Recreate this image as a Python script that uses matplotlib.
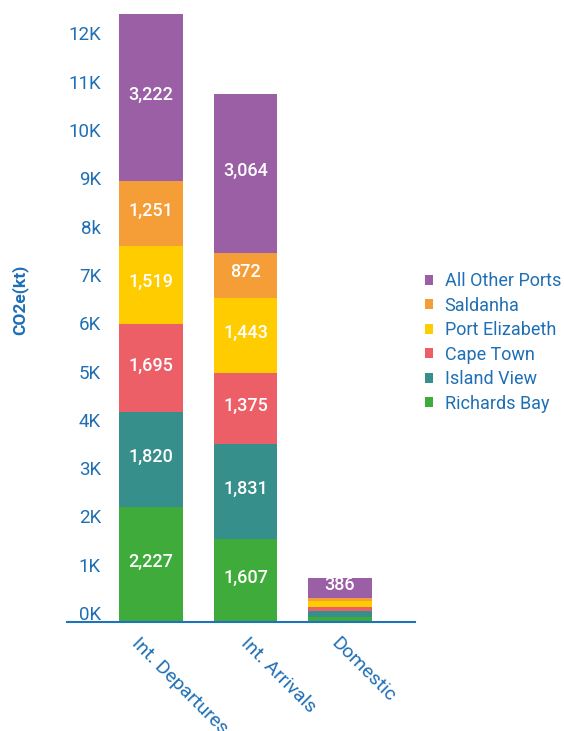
#!/usr/bin/env python3
import matplotlib
matplotlib.use('Agg')
import matplotlib.pyplot as plt
import matplotlib.transforms as mtrans

# emissions per port, in kt CO2e
categories = ['Int. Departures', 'Int. Arrivals', 'Domestic']
ports = ['Richards Bay', 'Island View', 'Cape Town', 'Port Elizabeth', 'Saldanha', 'All Other Ports']
richards_bay = [2227, 1607, 90]
island_view = [1820, 1831, 115]
cape_town = [1695, 1375, 90]
port_elizabeth = [1519, 1443, 105]
saldanha = [1251, 872, 60]
other_ports = [3222, 3064, 386]
tick_labels = ['0K', '1K', '2K', '3K', '4K', '5K', '6K', '7K', '8k', '9K', '10K', '11K', '12K']

series = [richards_bay, island_view, cape_town, port_elizabeth, saldanha, other_ports]
colors = ['#3fab3b', '#368f8b', '#ec5f67', '#ffcc00', '#f59d36', '#9b5fa5']
blue = '#1f6fb5'

plt.rcParams['font.family'] = ['Roboto', 'DejaVu Sans']

W, H = 564, 731
fig = plt.figure(figsize=(W / 100, H / 100), dpi=100)
# axes placed in pixels: x 67..415, baseline y=622, top y=10
ax = fig.add_axes([67 / W, (H - 622) / H, (415 - 67) / W, (622 - 10) / H])

x = list(range(len(categories)))
bottom = [0] * len(categories)
for vals, col, name in zip(series, colors, ports):
    ax.bar(x, vals, width=0.677, bottom=bottom, color=col, label=name)
    for xi, v, b in zip(x, vals, bottom):
        if v > 300:
            ax.annotate(f'{v:,}', (xi, b + v / 2), xytext=(0, 2), textcoords='offset points',
                        ha='center', va='center', color='white', fontsize=13, fontweight='medium')
    bottom = [b + v for b, v in zip(bottom, vals)]

ax.set_xlim(-0.889, 2.794)
ax.set_ylim(0, 11734 * 612 / 608)

# the value labels in the original sit on a slightly tighter grid than the bars
tick_pos = [174 + i * 932 for i in range(len(tick_labels))]
ax.set_yticks(tick_pos)
ax.set_yticklabels(tick_labels, color=blue, fontsize=13.5)
ax.tick_params(axis='y', length=0, pad=-24.5)
for lbl in ax.get_yticklabels():
    lbl.set_horizontalalignment('right')

ax.set_xticks(x)
ax.set_xticklabels(categories, rotation=-45, ha='left', va='top', rotation_mode='anchor',
                   color=blue, fontsize=14)
ax.tick_params(axis='x', length=0, pad=9)
# small nudges so the slanted labels start where they do in the original
for lbl, dx in zip(ax.get_xticklabels(), [-10, 4, 0]):
    lbl.set_transform(lbl.get_transform() + mtrans.ScaledTranslation(dx / 100, 0, fig.dpi_scale_trans))

for s in ['top', 'right', 'left']:
    ax.spines[s].set_visible(False)
ax.spines['bottom'].set_color('#1c75bc')
ax.spines['bottom'].set_linewidth(1.5)

fig.text(20 / W, 1 - 300 / H, 'CO2e(kt)', rotation=90, ha='center', va='center',
         color=blue, fontsize=12.5, fontweight='bold')

handles, labels = ax.get_legend_handles_labels()
leg = fig.legend(handles[::-1], labels[::-1], loc='upper left', bbox_to_anchor=(418 / W, 1 - 265 / H),
                 frameon=False, fontsize=13, handlelength=0.45, handleheight=0.45,
                 handletextpad=0.62, labelspacing=0.36, borderaxespad=0)
for t in leg.get_texts():
    t.set_color(blue)

fig.savefig('out.png', dpi=100)
